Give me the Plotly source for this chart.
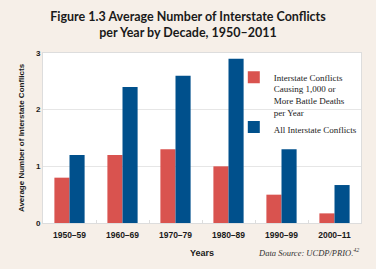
import plotly.graph_objects as go

decades = ["1950–59", "1960–69", "1970–79", "1980–89", "1990–99", "2000–11"]
major = [0.8, 1.2, 1.3, 1.0, 0.5, 0.17]
all_conf = [1.2, 2.4, 2.6, 2.9, 1.3, 0.67]
y_ticks = [0, 1, 2, 3]

RED = "#d9534f"
BLUE = "#00508c"
BG = "#f6efe8"

fig = go.Figure()
fig.add_trace(go.Bar(x=decades, y=major, name="Interstate Conflicts<br>Causing 1,000 or<br>More Battle Deaths<br>per Year",
                     marker=dict(color=RED, line=dict(width=0))))
fig.add_trace(go.Bar(x=decades, y=all_conf, name="All Interstate Conflicts",
                     marker=dict(color=BLUE, line=dict(width=0))))

fig.update_layout(
    width=376, height=269,
    paper_bgcolor=BG, plot_bgcolor="white",
    margin=dict(l=43, r=15, t=53, b=46),
    barmode="group", bargap=0.43, bargroupgap=0,
    title=dict(text="<b>Figure 1.3 Average Number of Interstate Conflicts<br>per Year by Decade, 1950–2011</b>",
               x=0.5, xanchor="center", y=0.922, yanchor="top",
               font=dict(family="Lato", size=12.5, color="#1a1a1a")),
    font=dict(family="Liberation Sans", color="#1a1a1a"),
    showlegend=True,
    legend=dict(x=0.60, y=0.93, xanchor="left", yanchor="top",
                bgcolor="rgba(0,0,0,0)", borderwidth=0,
                font=dict(family="Liberation Serif", size=9, color="#222"),
                valign="top", traceorder="normal"),
    xaxis=dict(title=dict(text="<b>Years</b>", font=dict(size=9), standoff=10),
               tickfont=dict(size=8.5), ticks="inside", ticklen=3, tickcolor="#dddddd",
               tickson="boundaries", showline=True, linecolor="#dddddd", mirror=True,
               showgrid=False, ticklabelstandoff=4),
    yaxis=dict(title=dict(text="<b>Average Number of Interstate Conflicts</b>", font=dict(size=8), standoff=10),
               range=[0, 3], tickvals=y_ticks, ticktext=[f"<b>{v}</b>" for v in y_ticks],
               tickfont=dict(size=8), showline=True, linecolor="#dddddd", mirror=True,
               gridcolor="#e6e6e6", gridwidth=1, zeroline=False, ticks=""),
)
fig.update_xaxes(tickvals=decades, ticktext=[f"<b>{d}</b>" for d in decades])
# white panel behind the legend (above gridlines, below bars)
fig.add_shape(type="rect", xref="paper", yref="paper", x0=0.632, x1=0.987, y0=0.52, y1=0.95,
              fillcolor="white", line=dict(width=0), layer="between")
fig.add_annotation(text="<i>Data Source: UCDP/PRIO.<sup>42</sup></i>", xref="paper", yref="paper",
                   x=1, y=-0.176, xanchor="right", yanchor="middle", showarrow=False,
                   font=dict(family="Liberation Serif", size=8.5, color="#333"))

fig.write_html("out.html", config={"displayModeBar": False},
               post_script="document.body.style.margin='0';document.body.style.overflow='hidden';")
